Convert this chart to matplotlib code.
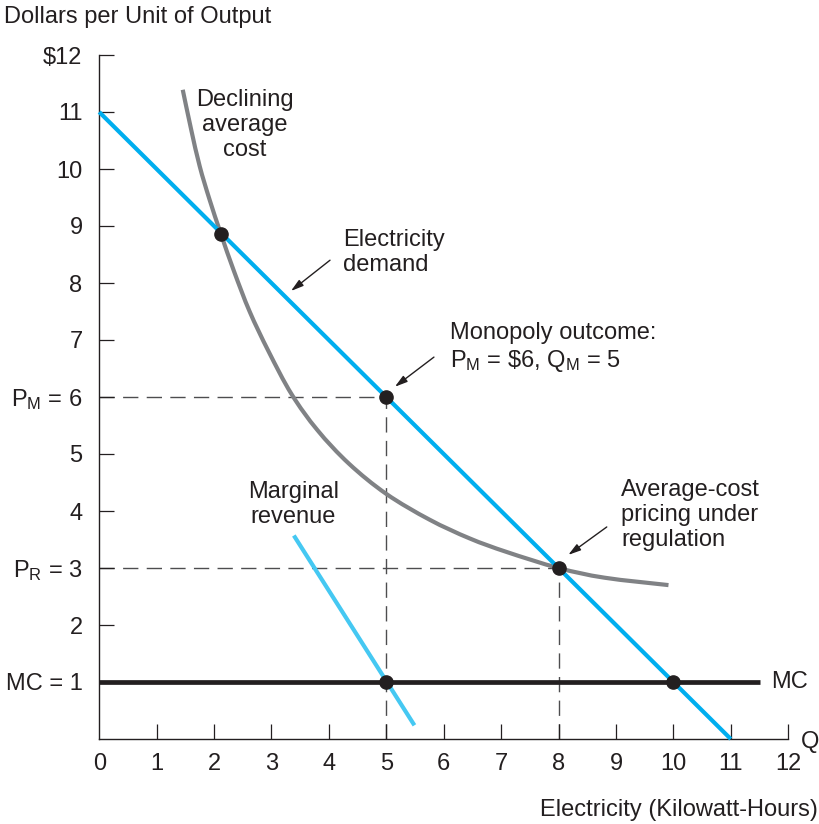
import matplotlib
matplotlib.use("Agg")
import matplotlib.pyplot as plt
from matplotlib.path import Path
from matplotlib.patches import PathPatch

plt.rcParams['font.family'] = ['Liberation Sans', 'DejaVu Sans']
plt.rcParams['mathtext.fontset'] = 'custom'
plt.rcParams['mathtext.rm'] = 'Liberation Sans'
plt.rcParams['mathtext.it'] = 'Liberation Sans:italic'
plt.rcParams['mathtext.bf'] = 'Liberation Sans:bold'

# ---- data ----
demand_q = [0, 11]
demand_p = [11, 0]

mr_q = [3.39, 5.49]
mr_p = [3.57, 0.24]

mc_q = [0, 11.51]
mc_p = [1, 1]

ac_q = [1.455, 1.60, 1.75, 1.92, 2.12, 2.35, 2.62, 2.95, 3.35,
        3.80, 4.35, 5.00, 5.75, 6.45, 7.10, 8.00, 8.80, 9.915]
ac_p = [11.39, 10.70, 10.05, 9.47, 8.86, 8.20, 7.50, 6.80, 6.05,
        5.42, 4.83, 4.30, 3.85, 3.52, 3.28, 3.00, 2.83, 2.70]

dots_q = [2.13, 5, 8, 5, 10]
dots_p = [8.86, 6, 3, 1, 1]

pm_q, pm_p = 5, 6
pr_q, pr_p = 8, 3

x_ticks = list(range(0, 13))
x_labels = [str(v) for v in x_ticks]
y_ticks = list(range(1, 13))
y_labels = ['MC = 1', '2', r'P$_{\mathrm{R}}$ = 3', '4', '5', r'P$_{\mathrm{M}}$ = 6',
            '7', '8', '9', '10', '11', r'\$12']

# ---- style ----
BLUE = '#00AEEF'
LBLUE = '#45C8F2'
GRAY = '#808285'
BLACK = '#231F20'
DASH = '#4D4D4F'
FS = 17
LS = 1.17

fig = plt.figure(figsize=(8.19, 8.24), dpi=100)
ax = fig.add_axes([99.2 / 819, 85 / 824, 689 / 819, 684 / 824])
ax.set_xlim(0, 12)
ax.set_ylim(0, 12)

for s in ['top', 'right']:
    ax.spines[s].set_visible(False)
for s in ['left', 'bottom']:
    ax.spines[s].set_linewidth(1.0)
    ax.spines[s].set_color(BLACK)

ax.set_xticks(x_ticks)
ax.set_xticklabels(x_labels)
ax.set_yticks(y_ticks)
ax.set_yticklabels(y_labels)
ax.tick_params(axis='both', direction='in', length=11, width=0.9, color=BLACK,
               labelsize=FS, labelcolor=BLACK)
ax.tick_params(axis='y', pad=12)
ax.tick_params(axis='x', pad=10)
ax.xaxis.get_major_ticks()[0].tick1line.set_visible(False)

# dashed guide lines
dash_kw = dict(color=DASH, lw=1.0, dashes=(11, 6), zorder=1)
ax.plot([0, pm_q], [pm_p, pm_p], **dash_kw)
ax.plot([pm_q, pm_q], [0, pm_p], **dash_kw)
ax.plot([0, pr_q], [pr_p, pr_p], **dash_kw)
ax.plot([pr_q, pr_q], [0, pr_p], **dash_kw)

# average cost: smooth curve through the read points (Catmull-Rom as cubic Beziers)
def smooth_path(xs, ys):
    pts = list(zip(xs, ys))
    verts = [pts[0]]
    codes = [Path.MOVETO]
    n = len(pts)
    for i in range(n - 1):
        p0 = pts[i - 1] if i > 0 else pts[i]
        p1 = pts[i]
        p2 = pts[i + 1]
        p3 = pts[i + 2] if i + 2 < n else pts[i + 1]
        c1 = (p1[0] + (p2[0] - p0[0]) / 6, p1[1] + (p2[1] - p0[1]) / 6)
        c2 = (p2[0] - (p3[0] - p1[0]) / 6, p2[1] - (p3[1] - p1[1]) / 6)
        verts += [c1, c2, p2]
        codes += [Path.CURVE4] * 3
    return Path(verts, codes)

ax.add_patch(PathPatch(smooth_path(ac_q, ac_p), facecolor='none', edgecolor=GRAY,
                       lw=3.0, capstyle='butt', zorder=2))

ax.plot(demand_q, demand_p, color=BLUE, lw=3.0, solid_capstyle='butt', zorder=3, clip_on=False)
ax.plot(mr_q, mr_p, color=LBLUE, lw=3.0, solid_capstyle='butt', zorder=3)
ax.plot(mc_q, mc_p, color=BLACK, lw=3.4, solid_capstyle='butt', zorder=3, clip_on=False)
ax.plot(dots_q, dots_p, 'o', color=BLACK, ms=9.5, zorder=6, clip_on=False)

# texts
ax.text(2.54, 10.77, 'Declining\naverage\ncost', ha='center', va='center',
        fontsize=FS, linespacing=LS, color=BLACK)
ax.text(4.25, 8.54, 'Electricity\ndemand', ha='left', va='center',
        fontsize=FS, linespacing=LS, color=BLACK)
ax.text(6.11, 6.86, 'Monopoly outcome:\n' + r'P$_{\mathrm{M}}$ = \$6, Q$_{\mathrm{M}}$ = 5',
        ha='left', va='center', fontsize=FS, linespacing=LS, color=BLACK)
ax.text(9.09, 3.93, 'Average-cost\npricing under\nregulation', ha='left', va='center',
        fontsize=FS, linespacing=LS, color=BLACK)
ax.text(3.38, 4.12, 'Marginal\nrevenue', ha='center', va='center',
        fontsize=FS, linespacing=LS, color=BLACK)

arrow_kw = dict(arrowstyle='-|>,head_length=0.75,head_width=0.22', color=BLACK, lw=1.0,
                shrinkA=0, shrinkB=0, mutation_scale=10)
ax.annotate('', xy=(3.34, 7.86), xytext=(4.02, 8.40), arrowprops=arrow_kw)
ax.annotate('', xy=(5.15, 6.18), xytext=(5.83, 6.70), arrowprops=arrow_kw)
ax.annotate('', xy=(8.17, 3.23), xytext=(8.84, 3.72), arrowprops=arrow_kw)

# axis titles / labels in figure pixel coords
def fx(px):
    return px / 819
def fy(py):
    return 1 - py / 824

fig.text(fx(4), fy(17), 'Dollars per Unit of Output', ha='left', va='center', fontsize=FS, color=BLACK)
fig.text(fx(818), fy(810), 'Electricity (Kilowatt-Hours)', ha='right', va='center', fontsize=FS, color=BLACK)
fig.text(fx(801), fy(742), 'Q', ha='left', va='center', fontsize=FS, color=BLACK)
fig.text(fx(771), fy(682), 'MC', ha='left', va='center', fontsize=FS, color=BLACK)

fig.savefig('out.png', dpi=100)
